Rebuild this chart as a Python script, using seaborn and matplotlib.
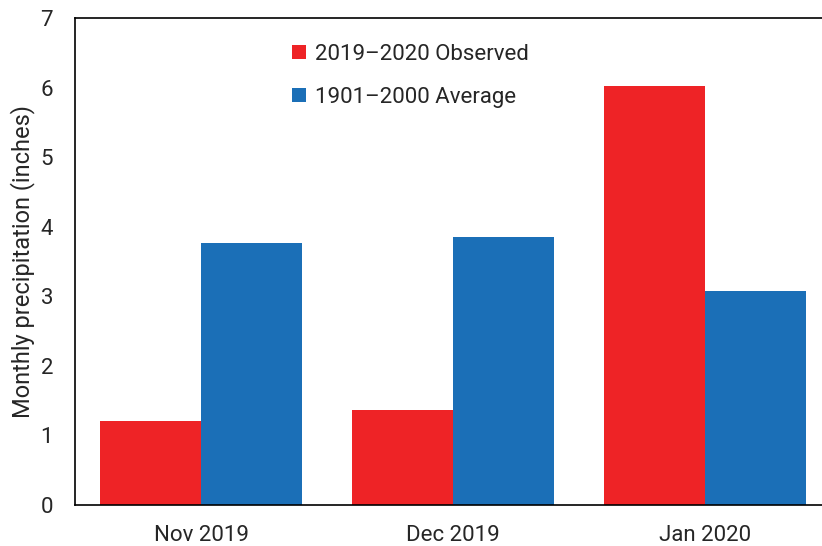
import pandas as pd
import matplotlib
matplotlib.use('Agg')
import matplotlib.pyplot as plt
import seaborn as sns

sns.set_style('white')
plt.rcParams['font.family'] = ['Roboto', 'DejaVu Sans']

months = ['Nov 2019', 'Dec 2019', 'Jan 2020']
observed = [1.21, 1.37, 6.02]
average = [3.77, 3.85, 3.08]
series = ['2019\u20132020 Observed', '1901\u20132000 Average']
colors = ['#ee2326', '#1b6fb7']

df = pd.DataFrame({
    'month': months * 2,
    'value': observed + average,
    'series': [series[0]] * 3 + [series[1]] * 3,
})

fig = plt.figure(figsize=(8.22, 5.46), dpi=100)
ax = fig.add_axes([75 / 822, 1 - 505 / 546, 756 / 822, (505 - 18) / 546])

sns.barplot(data=df, x='month', y='value', hue='series', palette=colors,
            width=0.8, saturation=1, ax=ax, edgecolor='none')

ax.set_xlim(-0.5, 2.5)
ax.set_ylim(0, 7)
ax.set_yticks(range(8))
ax.set_xticks([-0.5, 0.5, 1.5, 2.5])
ax.set_xticklabels([])
ax.set_xticks([0, 1, 2], minor=True)
ax.set_xticklabels(months, minor=True)
ax.tick_params(axis='x', which='major', direction='out', length=5, width=1.2, color='black')
ax.tick_params(axis='x', which='minor', length=0, pad=14.5, labelsize=16)
ax.tick_params(axis='y', direction='inout', length=11.5, width=1.2, color='black',
               labelsize=16, pad=10)
ax.set_xlabel('')
ax.set_ylabel('Monthly precipitation (inches)', fontsize=17, labelpad=4)

for side in ['left', 'bottom', 'top', 'right']:
    ax.spines[side].set_color('black')
    ax.spines[side].set_linewidth(1.2)

leg = ax.legend(loc='upper left', bbox_to_anchor=(0.261, 0.988), frameon=False,
                fontsize=16, handlelength=0.6, handleheight=0.6,
                handletextpad=0.4, labelspacing=1.0)

fig.savefig('out.png', dpi=100)
